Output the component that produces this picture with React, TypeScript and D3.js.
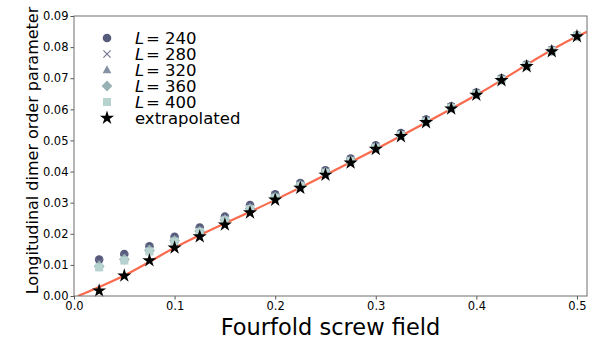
import React, { useEffect, useRef } from "react";
import * as d3 from "d3";

const fields = [0.025, 0.05, 0.075, 0.1, 0.125, 0.15, 0.175, 0.2, 0.225, 0.25, 0.275, 0.3, 0.325, 0.35, 0.375, 0.4, 0.425, 0.45, 0.475, 0.5];

const l240 = [0.0117, 0.0135, 0.016, 0.019, 0.022, 0.0255, 0.0292, 0.0327, 0.0363, 0.0404, 0.0442, 0.0484, 0.0524, 0.0567, 0.061, 0.0654, 0.07, 0.0744, 0.0791, 0.0838];
const l280 = [0.0108, 0.0128, 0.0155, 0.0185, 0.0215, 0.0251, 0.0288, 0.0323, 0.036, 0.0401, 0.0439, 0.0481, 0.0521, 0.0565, 0.0608, 0.0652, 0.0698, 0.0742, 0.079, 0.0837];
const l320 = [0.0101, 0.0122, 0.0151, 0.0181, 0.0211, 0.0248, 0.0284, 0.032, 0.0358, 0.0399, 0.0437, 0.0479, 0.0519, 0.0563, 0.0607, 0.0651, 0.0697, 0.0741, 0.0789, 0.0836];
const l360 = [0.0096, 0.0118, 0.0147, 0.0178, 0.0208, 0.0245, 0.0281, 0.0318, 0.0356, 0.0397, 0.0435, 0.0478, 0.0518, 0.0562, 0.0606, 0.065, 0.0696, 0.0741, 0.0788, 0.0836];
const l400 = [0.0092, 0.0114, 0.0143, 0.0175, 0.0206, 0.0243, 0.0279, 0.0316, 0.0354, 0.0396, 0.0434, 0.0477, 0.0517, 0.0561, 0.0605, 0.0649, 0.0695, 0.074, 0.0788, 0.0835];
const extrapolated = [0.0017, 0.0065, 0.0114, 0.0155, 0.0191, 0.0229, 0.0268, 0.0309, 0.0347, 0.0389, 0.0428, 0.0472, 0.0513, 0.0558, 0.0602, 0.0646, 0.0693, 0.0738, 0.0786, 0.0834];

// fitted curve
const fitX = [0.004, 0.05, 0.1, 0.2, 0.3, 0.4, 0.5, 0.51];
const fitY = [0.0, 0.0066, 0.0155, 0.0309, 0.0472, 0.0646, 0.0834, 0.0849];

const xTicks = [0, 0.1, 0.2, 0.3, 0.4, 0.5];
const yTicks = [0, 0.01, 0.02, 0.03, 0.04, 0.05, 0.06, 0.07, 0.08, 0.09];

const series = [
  { label: "240", values: l240, shape: "circle", color: "#565a7b" },
  { label: "280", values: l280, shape: "cross", color: "#6f7190" },
  { label: "320", values: l320, shape: "triangle", color: "#8592a4" },
  { label: "360", values: l360, shape: "diamond", color: "#97b2b4" },
  { label: "400", values: l400, shape: "square", color: "#b7d3cf" },
];

const App = () => {
  const svgRef = useRef<SVGSVGElement>(null);

  useEffect(() => {
    drawChart();
  }, []);

  const drawChart = () => {
    const margin = { top: 16, right: 11, bottom: 53, left: 74 };
    const width = 598 - margin.left - margin.right;
    const height = 349 - margin.top - margin.bottom;
    const font = "DejaVu Sans, sans-serif";

    const root = d3.select(svgRef.current);
    root.selectAll("*").remove();
    root.attr("width", 598).attr("height", 349);

    const svg = root.append("g").attr("transform", `translate(${margin.left},${margin.top})`);

    const xScale = d3.scaleLinear().domain([0, 0.51]).range([0, width]);
    const yScale = d3.scaleLinear().domain([0, 0.09]).range([height, 0]);

    svg.append("clipPath").attr("id", "plot-clip")
      .append("rect").attr("width", width).attr("height", height);

    // fit line
    const line = d3.line<number>()
      .x((d, i) => xScale(fitX[i]))
      .y((d) => yScale(d))
      .curve(d3.curveMonotoneX);
    svg.append("path")
      .datum(fitY)
      .attr("clip-path", "url(#plot-clip)")
      .attr("d", line)
      .attr("fill", "none")
      .attr("stroke", "#fa6a4d")
      .attr("stroke-width", 2.2);

    const drawMarker = (g: any, shape: string, color: string) => {
      if (shape === "circle") {
        g.append("circle").attr("r", 4.3).attr("fill", color);
      } else if (shape === "cross") {
        g.append("path").attr("d", "M-3.6,-3.6L3.6,3.6M-3.6,3.6L3.6,-3.6")
          .attr("stroke", color).attr("stroke-width", 1.1).attr("fill", "none");
      } else if (shape === "triangle") {
        g.append("path").attr("d", "M0,-4.8L4.4,3.2L-4.4,3.2Z").attr("fill", color);
      } else if (shape === "diamond") {
        g.append("path").attr("d", "M0,-5.4L5.4,0L0,5.4L-5.4,0Z").attr("fill", color);
      } else if (shape === "square") {
        g.append("rect").attr("x", -4).attr("y", -4).attr("width", 8).attr("height", 8).attr("fill", color);
      }
    };

    const star = d3.symbol().type(d3.symbolStar).size(62)();

    series.forEach((s) => {
      s.values.forEach((v, i) => {
        const g = svg.append("g").attr("transform", `translate(${xScale(fields[i])},${yScale(v)})`);
        drawMarker(g, s.shape, s.color);
      });
    });

    svg.selectAll(".star")
      .data(extrapolated)
      .enter()
      .append("path")
      .attr("class", "star")
      .attr("d", star)
      .attr("transform", (d, i) => `translate(${xScale(fields[i])},${yScale(d)})`)
      .attr("fill", "#000");

    // axes
    const xAxis = svg.append("g")
      .attr("transform", `translate(0,${height})`)
      .call(d3.axisBottom(xScale).tickValues(xTicks).tickFormat(d3.format(".1f")).tickSizeInner(3.5).tickSizeOuter(0).tickPadding(2));
    const yAxis = svg.append("g")
      .call(d3.axisLeft(yScale).tickValues(yTicks).tickFormat(d3.format(".2f")).tickSizeInner(3.5).tickSizeOuter(0).tickPadding(2));

    [xAxis, yAxis].forEach((a) => {
      a.selectAll("text").style("font-family", font).style("font-size", "11.5px").attr("fill", "#000");
      a.selectAll("line").attr("stroke", "#555");
      a.select(".domain").remove();
    });

    // spines
    svg.append("rect")
      .attr("width", width)
      .attr("height", height)
      .attr("fill", "none")
      .attr("stroke", "#6e6e6e")
      .attr("stroke-width", 1);

    // legend
    const legend = svg.append("g").attr("transform", "translate(33,22)");
    series.forEach((s, i) => {
      const g = legend.append("g").attr("transform", `translate(0,${i * 16})`);
      drawMarker(g, s.shape, s.color);
      g.append("text")
        .attr("x", 28)
        .attr("y", 6)
        .style("font-family", font)
        .style("font-size", "16.5px")
        .style("font-style", "italic")
        .text("L");
      g.append("text")
        .attr("x", 39)
        .attr("y", 6)
        .style("font-family", font)
        .style("font-size", "16.5px")
        .text(`= ${s.label}`);
    });
    const eg = legend.append("g").attr("transform", `translate(0,${5 * 16})`);
    eg.append("path").attr("d", star).attr("fill", "#000");
    eg.append("text")
      .attr("x", 28)
      .attr("y", 6)
      .style("font-family", font)
      .style("font-size", "16.5px")
      .text("extrapolated");

    // axis labels
    svg.append("text")
      .attr("x", width / 2)
      .attr("y", height + 39)
      .attr("text-anchor", "middle")
      .style("font-family", font)
      .style("font-size", "22.5px")
      .text("Fourfold screw field");

    svg.append("text")
      .attr("transform", "rotate(-90)")
      .attr("x", -134.5)
      .attr("y", -36)
      .attr("text-anchor", "middle")
      .style("font-family", font)
      .style("font-size", "16px")
      .text("Longitudinal dimer order parameter");
  };

  return <svg ref={svgRef} style={{ position: "absolute", left: 0, top: 0 }}></svg>;
};

export default App;
